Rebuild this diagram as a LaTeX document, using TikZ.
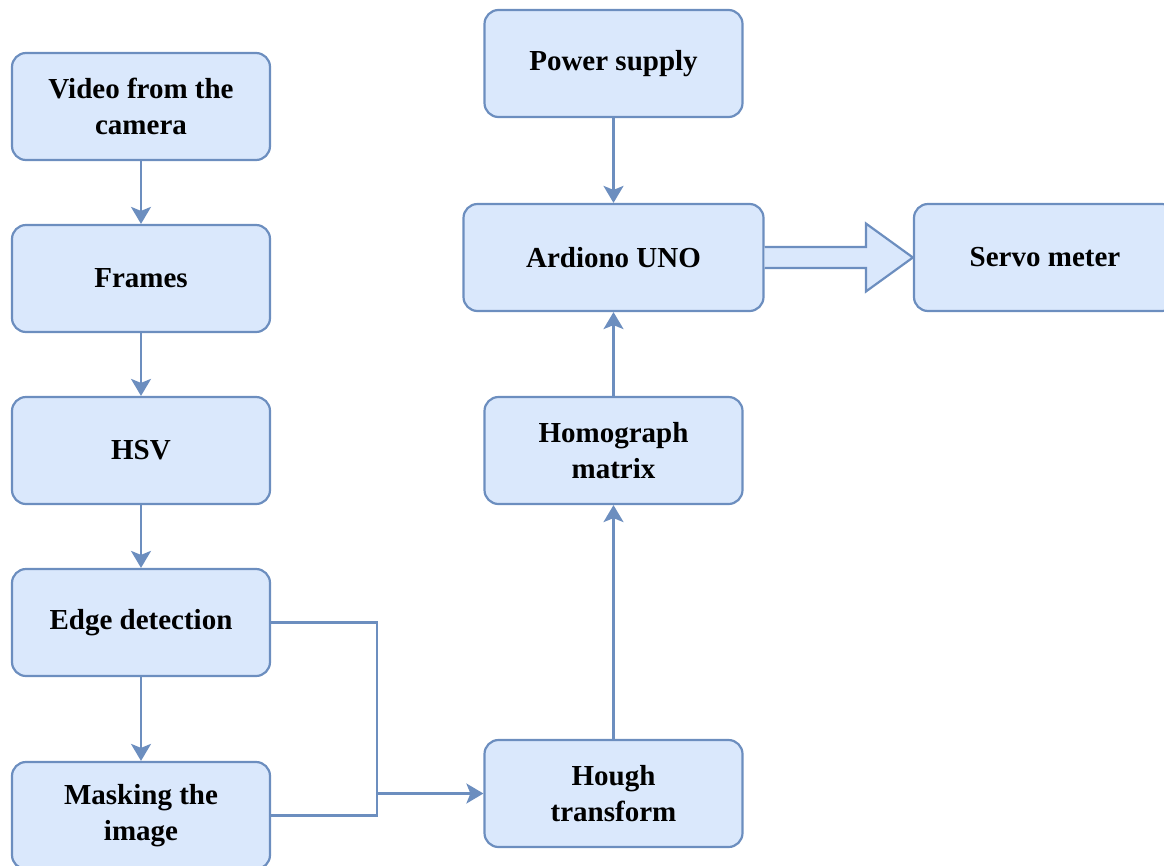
\documentclass[tikz,border=0pt]{standalone}
\usepackage{fontspec}
\setmainfont{Liberation Serif}
\usetikzlibrary{arrows.meta,calc}
\definecolor{boxfill}{HTML}{DAE8FC}
\definecolor{boxline}{HTML}{6C8EBF}
\begin{document}
\begin{tikzpicture}[x=1pt,y=-1pt,
  box/.style={draw=boxline, fill=boxfill, line width=2.2pt, rounded corners=14pt,
    minimum width=258pt, minimum height=107pt, align=center, inner sep=0pt,
    font=\fontsize{29}{36}\selectfont\bfseries},
  conn/.style={draw=boxline, line width=2.4pt},
  arr/.style={conn, -{Stealth[length=17pt,width=20pt,inset=4pt]}}]
\useasboundingbox (0,0) rectangle (1164,865);
\node[box] (video) at (141,106.5) {Video from the\\camera};
\node[box] (frames) at (141,278.5) {Frames};
\node[box] (hsv) at (141,450.5) {HSV};
\node[box] (edge) at (141,622.5) {Edge detection};
\node[box] (mask) at (141,815.5) {Masking the\\image};
\node[box] (power) at (613.5,63.5) {Power supply};
\node[box, minimum width=300pt] (ard) at (613.5,257.5) {Ardiono UNO};
\node[box, minimum width=262pt] (servo) at (1045,257.5) {Servo meter};
\node[box] (homo) at (613.5,450.5) {Homograph\\matrix};
\node[box] (hough) at (613.5,793.5) {Hough\\transform};
\coordinate (junc) at (377,793.5);
\draw[arr] (video) -- (frames);
\draw[arr] (frames) -- (hsv);
\draw[arr] (hsv) -- (edge);
\draw[arr] (edge) -- (mask);
\draw[conn] (edge.east) -| (junc);
\draw[conn] (mask.east) -| (junc);
\draw[arr] (junc) -- (hough.west);
\draw[arr] (hough) -- (homo);
\draw[arr] (homo) -- (ard);
\draw[arr] (power) -- (ard);
\draw[draw=boxline, fill=boxfill, line width=2.2pt, line join=miter]
  ($(ard.east)+(0,-10.5)$) -- ($(servo.west)+(-47,-10.5)$) -- ($(servo.west)+(-47,-34)$)
  -- (servo.west) -- ($(servo.west)+(-47,34)$) -- ($(servo.west)+(-47,10.5)$)
  -- ($(ard.east)+(0,10.5)$);
\end{tikzpicture}
\end{document}
